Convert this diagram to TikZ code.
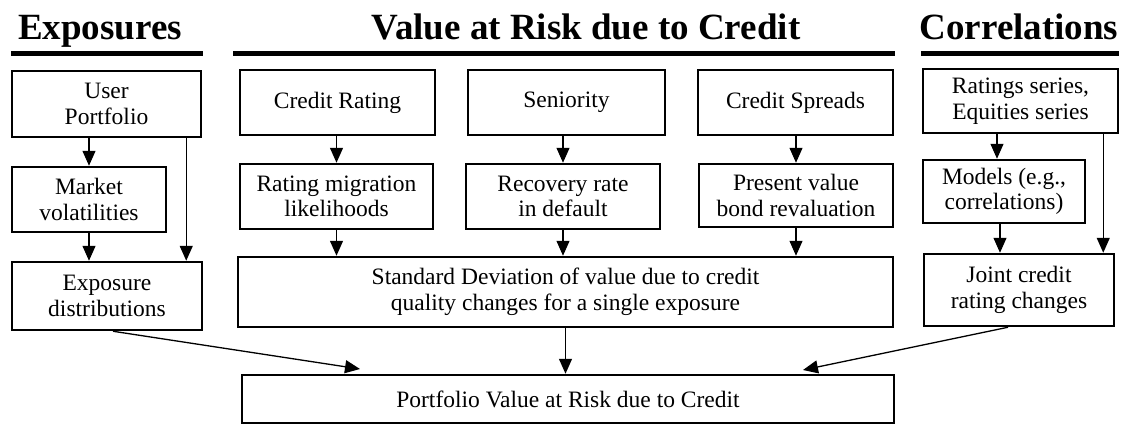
\documentclass[tikz,border=0pt]{standalone}
\usepackage{fontspec}
\setmainfont{Liberation Serif}
\usetikzlibrary{arrows.meta, positioning}

\tikzset{
    box/.style={draw, line width=2.5pt, align=center, inner sep=0pt,
        font=\fontsize{23.5}{25.5}\selectfont},
    head/.style={anchor=base, inner sep=0pt, font=\fontsize{37}{40}\selectfont\bfseries},
    headrule/.style={line width=5pt},
    flow/.style={-{Triangle[length=15pt,width=13pt]}, line width=1.3pt},
}

\begin{document}
\begin{tikzpicture}[x=1pt, y=-1pt]
        \useasboundingbox (0,0) rectangle (1132,426);

        % Headings
        \node[head] (hexp) at (100,39) {Exposures};
        \node[head] (hvar) at (586,39) {Value at Risk due to Credit};
        \node[head] (hcor) at (1019,39) {Correlations};
        \foreach \a/\b in {11/203, 233/895, 921/1119} {
                \draw[headrule] (\a,53) -- (\b,53);
            }

        % Exposures column
        \node[box, minimum width=189pt, minimum height=66pt] (up) at (106.5,104) {User\\Portfolio};
        \node[box, minimum width=154pt, minimum height=65pt] (mv) at (89,199.5) {Market\\volatilities};
        \node[box, minimum width=190pt, minimum height=68pt] (ed) at (107,296) {Exposure\\distributions};

        % Value at Risk due to Credit column
        \node[box, minimum width=195pt, minimum height=65pt] (cr) at (337.5,102.5) {Credit Rating};
        \node[box, minimum width=197pt, minimum height=65pt] (sn) at (566.5,102.5) {Seniority};
        \node[box, minimum width=195pt, minimum height=65pt] (cs) at (795.5,102.5) {Credit Spreads};
        \node[box, minimum width=193pt, minimum height=65pt] (rm) at (336.5,196.5) {Rating migration\\likelihoods};
        \node[box, minimum width=194pt, minimum height=65pt] (rr) at (563,196.5) {Recovery rate\\in default};
        \node[box, minimum width=194pt, minimum height=63pt] (pv) at (796,195.5) {Present value\\bond revaluation};
        \node[box, minimum width=655pt, minimum height=70pt] (sd) at (565.5,292) {Standard Deviation of value due to credit\\quality changes for a single exposure};
        \node[box, minimum width=652pt, minimum height=48pt] (pf) at (568,399) {Portfolio Value at Risk due to Credit};

        % Correlations column
        \node[box, minimum width=195pt, minimum height=64pt] (rs) at (1020.5,101) {Ratings series,\\Equities series};
        \node[box, minimum width=162pt, minimum height=63pt] (md) at (1004,191.5) {Models (e.g.,\\correlations)};
        \node[box, minimum width=190pt, minimum height=72pt] (jc) at (1019,290) {Joint credit\\rating changes};

        % Arrows
        \draw[flow] (mv.north |- up.south) -- (mv.north);
        \draw[flow] (mv.south) -- (mv.south |- ed.north);
        \draw[flow] ([xshift=-16pt]up.south east) -- ([xshift=-16pt]up.south east |- ed.north);

        \draw[flow] (rm.north |- cr.south) -- (rm.north);
        \draw[flow] (rr.north |- sn.south) -- (rr.north);
        \draw[flow] (pv.north |- cs.south) -- (pv.north);
        \foreach \n in {rm, rr, pv} {
                \draw[flow] (\n.south) -- (\n.south |- sd.north);
            }
        \draw[flow] (sd.south) -- (sd.south |- pf.north);

        \draw[flow] ([xshift=-7pt]md.north |- rs.south) -- ([xshift=-7pt]md.north);
        \draw[flow] ([xshift=-4pt]md.south) -- ([xshift=-4pt]md.south |- jc.north);
        \draw[flow] ([xshift=-16pt]rs.south east) -- ([xshift=-16pt]rs.south east |- jc.north);

        \coordinate (pfl) at (360,369);
        \coordinate (pfr) at (803,370);
        \draw[flow] ([xshift=6pt]ed.south) -- (pfl);
        \draw[flow] ([xshift=-11pt]jc.south) -- (pfr);
    \end{tikzpicture}
\end{document}
